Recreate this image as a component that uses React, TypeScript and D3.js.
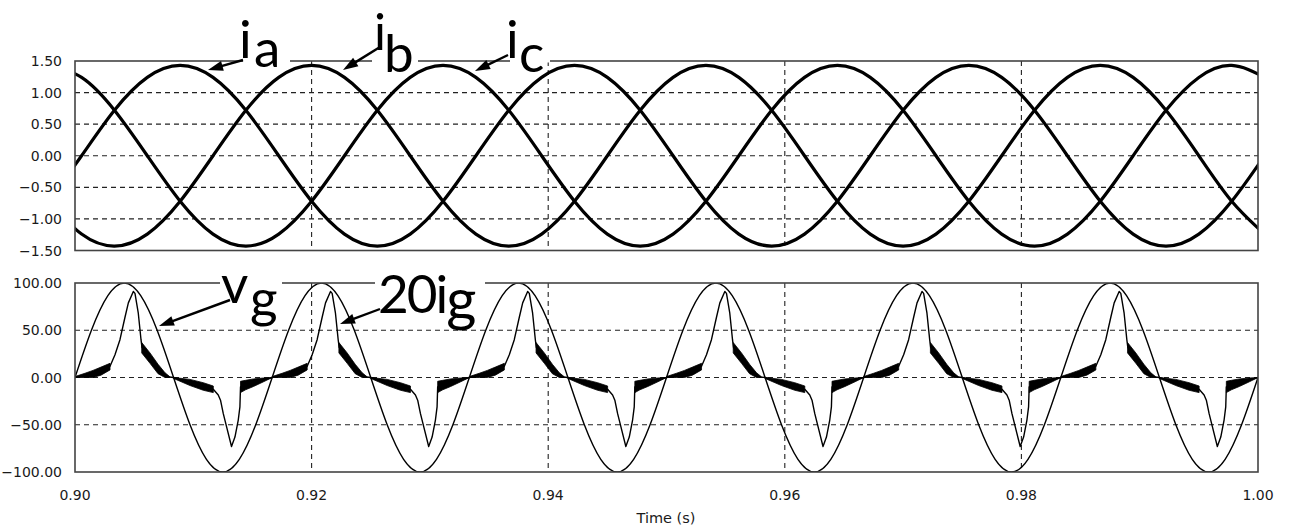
import React from 'react';
import * as d3 from 'd3';

// ---------- data ----------
const timeDomain: [number, number] = [0.9, 1.0];
const xTicks = [0.9, 0.92, 0.94, 0.96, 0.98, 1.0];
const xGrid = [0.92, 0.94, 0.96, 0.98];
const topTicks = [1.5, 1.0, 0.5, 0, -0.5, -1.0, -1.5];
const topGrid = [1.0, 0.5, 0, -0.5, -1.0];
const bottomTicks = [100, 50, 0, -50, -100];
const bottomGrid = [50, 0, -50];

// phase currents, sampled every 1/360 s from t = 0.897778 s
const currentStart = 0.897778;
const currentStep = 1 / 360;
const ia = [-0.72, 0, 0.72, 1.24, 1.43, 1.24, 0.72, 0, -0.72, -1.24, -1.43, -1.24, -0.72, 0, 0.72, 1.24, 1.43, 1.24, 0.72, 0, -0.72, -1.24, -1.43, -1.24, -0.72, 0, 0.72, 1.24, 1.43, 1.24, 0.72, 0, -0.72, -1.24, -1.43, -1.24, -0.72, 0];
const ib = [-0.72, -1.24, -1.43, -1.24, -0.72, 0, 0.72, 1.24, 1.43, 1.24, 0.72, 0, -0.72, -1.24, -1.43, -1.24, -0.72, 0, 0.72, 1.24, 1.43, 1.24, 0.72, 0, -0.72, -1.24, -1.43, -1.24, -0.72, 0, 0.72, 1.24, 1.43, 1.24, 0.72, 0, -0.72, -1.24];
const ic = [1.43, 1.24, 0.72, 0, -0.72, -1.24, -1.43, -1.24, -0.72, 0, 0.72, 1.24, 1.43, 1.24, 0.72, 0, -0.72, -1.24, -1.43, -1.24, -0.72, 0, 0.72, 1.24, 1.43, 1.24, 0.72, 0, -0.72, -1.24, -1.43, -1.24, -0.72, 0, 0.72, 1.24, 1.43, 1.24];

// grid voltage, sampled every 1/720 s from t = 0.9 s
const vgStart = 0.9;
const vgStep = 1 / 720;
const vg = [
  0, 50, 86.6, 100, 86.6, 50, 0, -50, -86.6, -100, -86.6, -50,
  0, 50, 86.6, 100, 86.6, 50, 0, -50, -86.6, -100, -86.6, -50,
  0, 50, 86.6, 100, 86.6, 50, 0, -50, -86.6, -100, -86.6, -50,
  0, 50, 86.6, 100, 86.6, 50, 0, -50, -86.6, -100, -86.6, -50,
  0, 50, 86.6, 100, 86.6, 50, 0, -50, -86.6, -100, -86.6, -50,
  0, 50, 86.6, 100, 86.6, 50, 0, -50, -86.6, -100, -86.6, -50,
  0,
];

// 20*ig : one measured cycle (offset in ms from the vg rising zero crossing)
const cycleStarts = [0.9, 0.916667, 0.933333, 0.95, 0.966667, 0.983333];
const igOffsetsMs = [0, 0.85, 1.69, 2.54, 2.96, 3.38, 3.8, 4.23, 4.51, 4.93, 5.07, 5.35, 5.58, 5.66, 6.34, 7.02, 7.61, 8.33,
  9.72, 10.84, 11.69, 12.11, 12.3, 12.53, 12.81, 13.23, 13.52, 13.8, 13.94, 13.99, 14.42, 15.09, 15.94, 16.67];
const igValues = [0, 2, 4.5, 8, 12, 24, 40, 64, 79, 91, 89, 68, 40, 32, 20, 9, 1, 0,
  -5, -9.5, -12.5, -18.5, -24, -38, -52, -73, -63, -45, -31, -10, -8, -5.5, -2.5, 0];
// switching-ripple bands (upper / lower envelopes) within one cycle
const igBandOffsetsMs = [
  [0, 0.85, 1.52, 2.2, 2.96],
  [5.64, 6.34, 7.02, 7.61, 8.0],
  [8.33, 9.72, 10.84, 11.69],
  [13.99, 14.42, 15.09, 15.94, 16.67],
];
const igBandHigh = [
  [1, 4.5, 7.5, 11, 15],
  [37, 26, 14, 5, 1],
  [0, -2, -5.5, -9],
  [-4, -3, -1.5, -0.5, 0],
];
const igBandLow = [
  [0, 0, 0, 2.5, 8],
  [26, 15, 4, 0, 0],
  [-1, -8.5, -13.5, -16],
  [-16, -13, -9.5, -4.5, 0],
];

// ---------- layout ----------
const W = 1289;
const H = 531;
const PL = 75;
const PR = 1258;
const TOP = { y0: 61, y1: 250.5 };
const BOT = { y0: 283, y1: 472 };
const TICK_FONT = '"DejaVu Sans", Verdana, sans-serif';
const LABEL_FONT = 'Lato, "Open Sans", sans-serif';
const INK = '#000';

function Arrow({ x1, y1, x2, y2 }: { x1: number; y1: number; x2: number; y2: number }) {
  const dx = x2 - x1, dy = y2 - y1;
  const len = Math.hypot(dx, dy);
  const ux = dx / len, uy = dy / len;
  const hl = 15, hw = 5;
  const bx = x2 - ux * hl, by = y2 - uy * hl;
  const p = `${x2},${y2} ${bx - uy * hw},${by + ux * hw} ${bx + uy * hw},${by - ux * hw}`;
  return (
    <g>
      <line x1={x1} y1={y1} x2={bx + ux * 2} y2={by + uy * 2} stroke={INK} strokeWidth={2.4} />
      <polygon points={p} fill={INK} />
    </g>
  );
}

export default function App() {
  const x = d3.scaleLinear().domain(timeDomain).range([PL, PR]);
  const yTop = d3.scaleLinear().domain([-1.5, 1.5]).range([TOP.y1, TOP.y0]);
  const yBot = d3.scaleLinear().domain([-100, 100]).range([BOT.y1, BOT.y0]);

  const topLine = d3.line<number>()
    .x((_, i) => x(currentStart + i * currentStep))
    .y((v) => yTop(v))
    .curve(d3.curveNatural);

  const vgLine = d3.line<number>()
    .x((_, i) => x(vgStart + i * vgStep))
    .y((v) => yBot(v))
    .curve(d3.curveNatural);

  const igPts: [number, number][] = [];
  cycleStarts.forEach((c) => {
    igOffsetsMs.forEach((o, i) => igPts.push([c + o / 1000, igValues[i]]));
  });
  const igLine = d3.line<[number, number]>().x((d) => x(d[0])).y((d) => yBot(d[1]));

  const bandArea = d3.area<[number, number, number]>()
    .x((d) => x(d[0]))
    .y0((d) => yBot(d[2]))
    .y1((d) => yBot(d[1]));
  const bandPaths: string[] = [];
  cycleStarts.forEach((c) => {
    igBandOffsetsMs.forEach((offs, b) => {
      const pts = offs.map((o, i) => [c + o / 1000, igBandHigh[b][i], igBandLow[b][i]] as [number, number, number]);
      bandPaths.push(bandArea(pts) || '');
    });
  });

  const grid = (y: d3.ScaleLinear<number, number>, vals: number[], y0: number, y1: number, key: string) => (
    <g key={key} stroke="#222" strokeWidth={1.1} strokeDasharray="5,4" fill="none">
      {vals.map((v) => (
        <line key={'h' + v} x1={PL} x2={PR} y1={y(v)} y2={y(v)} />
      ))}
      {xGrid.map((t) => (
        <line key={'v' + t} x1={x(t)} x2={x(t)} y1={y0} y2={y1} />
      ))}
    </g>
  );

  const fmt = d3.format('.2f');

  return (
    <svg width={W} height={H} style={{ position: 'absolute', left: 0, top: 0, background: '#fff' }}>
      <defs>
        <clipPath id="clipTop">
          <rect x={PL} y={TOP.y0} width={PR - PL} height={TOP.y1 - TOP.y0} />
        </clipPath>
        <clipPath id="clipBot">
          <rect x={PL} y={BOT.y0} width={PR - PL} height={BOT.y1 - BOT.y0} />
        </clipPath>
      </defs>
      <rect x={0} y={0} width={W} height={H} fill="#fff" />

      {grid(yTop, topGrid, TOP.y0, TOP.y1, 'gt')}
      {grid(yBot, bottomGrid, BOT.y0, BOT.y1, 'gb')}

      <g clipPath="url(#clipTop)" fill="none" stroke={INK} strokeWidth={3.2} strokeLinejoin="round">
        <path d={topLine(ia) || ''} />
        <path d={topLine(ib) || ''} />
        <path d={topLine(ic) || ''} />
      </g>

      <g clipPath="url(#clipBot)">
        <path d={vgLine(vg) || ''} fill="none" stroke={INK} strokeWidth={1.4} />
        {bandPaths.map((d, i) => (
          <path key={i} d={d} fill={INK} stroke={INK} strokeWidth={0.8} />
        ))}
        <path d={igLine(igPts) || ''} fill="none" stroke={INK} strokeWidth={1.4} strokeLinejoin="round" />
      </g>

      <rect x={PL} y={TOP.y0} width={PR - PL} height={TOP.y1 - TOP.y0} fill="none" stroke="#444" strokeWidth={1.6} />
      <rect x={PL} y={BOT.y0} width={PR - PL} height={BOT.y1 - BOT.y0} fill="none" stroke="#444" strokeWidth={1.6} />

      <g fontFamily={TICK_FONT} fontSize={14} fill="#1a1a1a">
        {topTicks.map((v) => (
          <text key={'t' + v} x={62} y={yTop(v)} dy="0.36em" textAnchor="end">{fmt(v)}</text>
        ))}
        {bottomTicks.map((v) => (
          <text key={'b' + v} x={62} y={yBot(v)} dy="0.36em" textAnchor="end">{fmt(v)}</text>
        ))}
        {xTicks.map((t) => (
          <text key={'x' + t} x={x(t)} y={500} textAnchor="middle">{fmt(t)}</text>
        ))}
        <text x={666} y={523} textAnchor="middle" fontSize={14.5}>Time (s)</text>
      </g>

      {/* label backgrounds interrupting the frame */}
      <g fill="#fff">
        <rect x={243} y={44} width={47} height={18.5} />
        <rect x={372} y={40} width={46} height={22.5} />
        <rect x={510} y={44} width={40} height={18.5} />
        <rect x={220} y={270} width={62} height={14} />
        <rect x={375} y={270} width={110} height={14} />
      </g>

      <g fontFamily={LABEL_FONT} fill={INK} fontSize={53}>
        <text x={239} y={58}>i</text>
        <text x={254} y={67}>a</text>
        <text x={374} y={50} fontSize={50}>i</text>
        <text x={384} y={72}>b</text>
        <text x={506} y={58}>i</text>
        <text x={519} y={72}>c</text>
        <text x={221} y={303}>v</text>
        <text x={250} y={317}>g</text>
        <text x={378} y={313} letterSpacing={-2}>
          20i<tspan dy={7} fontSize={58} letterSpacing={0}>g</tspan>
        </text>
      </g>

      <Arrow x1={243} y1={60} x2={208} y2={70} />
      <Arrow x1={380} y1={47} x2={343} y2={70} />
      <Arrow x1={508} y1={55} x2={475} y2={71} />
      <Arrow x1={230} y1={300} x2={159} y2={326} />
      <Arrow x1={380} y1={309} x2={340} y2={324} />
    </svg>
  );
}
